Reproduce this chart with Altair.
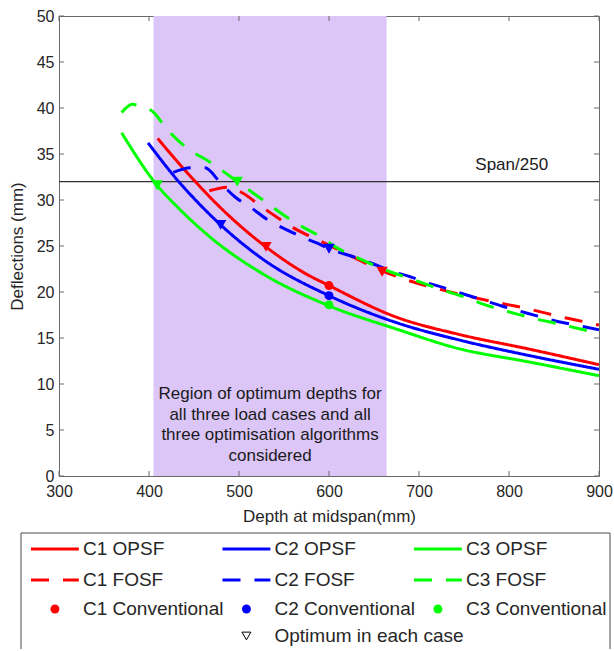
import altair as alt
import pandas as pd

# ---------------- data ----------------
cases = ["C1", "C2", "C3"]
case_colors = ["#FF0000", "#0000FF", "#00FF00"]
methods = ["OPSF", "FOSF"]

c1_opsf_depth = [409.6, 433, 444, 478, 530, 574, 600, 674, 744, 822, 900]
c1_opsf_defl = [36.7, 34.0, 32.8, 29.3, 24.9, 22.0, 20.7, 17.3, 15.4, 13.8, 12.1]
c2_opsf_depth = [399, 433, 455.6, 479.6, 526, 600, 674, 744, 822, 900]
c2_opsf_defl = [36.2, 32.0, 29.6, 27.3, 23.6, 19.6, 16.7, 14.8, 13.1, 11.6]
c3_opsf_depth = [369.6, 409, 433, 444, 470, 526, 600, 674, 744, 822, 900]
c3_opsf_defl = [37.3, 31.6, 29.1, 28.05, 25.8, 22.0, 18.5, 16.0, 13.85, 12.4, 10.9]

c1_fosf_depth = [467, 488, 505, 522, 541, 560, 580, 600, 635, 659, 690, 715, 752, 780, 800, 820, 841, 862, 882, 900]
c1_fosf_defl = [31.0, 31.4, 30.7, 29.5, 28.2, 27.0, 26.0, 25.1, 23.4, 22.3, 21.2, 20.5, 19.6, 19.0, 18.6, 18.2, 17.7, 17.2, 16.8, 16.4]
c2_fosf_depth = [427, 447, 462, 480, 496, 513, 531, 548, 570, 587, 600, 628, 648, 668, 689, 709, 730, 752, 772, 791, 813, 831, 854, 874, 900]
c2_fosf_defl = [33.0, 33.5, 33.5, 31.8, 30.3, 29.2, 27.9, 27.0, 26.0, 25.3, 24.7, 23.8, 23.1, 22.3, 21.7, 21.0, 20.4, 19.7, 19.1, 18.5, 17.9, 17.4, 16.8, 16.4, 15.9]
c3_fosf_depth = [369.6, 381.5, 390, 405.5, 416.7, 433, 446, 468, 484, 498, 518, 535, 552, 572, 589, 609, 628, 648, 668, 689, 709, 730, 752, 768, 787, 809, 829, 852, 870, 900]
c3_fosf_defl = [39.5, 40.4, 40.2, 39.5, 38.1, 36.4, 35.4, 34.1, 33.0, 32.0, 30.6, 29.4, 28.2, 27.0, 26.1, 24.8, 23.9, 23.0, 22.2, 21.5, 20.8, 20.1, 19.4, 18.8, 18.2, 17.6, 17.1, 16.6, 16.2, 15.5]

conv_case = ["C1", "C2", "C3"]
conv_depth = [600, 600, 600]
conv_defl = [20.7, 19.6, 18.6]

opt_case = ["C1", "C2", "C3", "C1", "C2", "C3"]
opt_depth = [530, 479.6, 409, 659, 600, 498]
opt_defl = [24.9, 27.3, 31.6, 22.2, 24.7, 32.0]

region_start = 405
region_end = 664
region_text = "Region of optimum depths for\nall three load cases and all\nthree optimisation algorithms\nconsidered"
region_text_defl = 8.9   # level of the first text line

span_limit = 32
span_label = "Span/250"
span_label_depth = 803
span_label_defl = 33.8

x_ticks = [300, 400, 500, 600, 700, 800, 900]
y_ticks = [0, 5, 10, 15, 20, 25, 30, 35, 40, 45, 50]

legend_labels = ["C1 OPSF", "C2 OPSF", "C3 OPSF",
                 "C1 FOSF", "C2 FOSF", "C3 FOSF",
                 "C1 Conventional", "C2 Conventional", "C3 Conventional",
                 "Optimum in each case"]
legend_cols = [0, 1, 2, 0, 1, 2, 0, 1, 2, 1]
legend_rows = [0, 0, 0, 1, 1, 1, 2, 2, 2, 3]
legend_kinds = ["solid"] * 3 + ["dashed"] * 3 + ["dot"] * 3 + ["tri"]
legend_colors = case_colors * 3 + ["#000000"]

# ---------------- build tables ----------------
rows = []
for case, method, dd, vv in [
    ("C1", "OPSF", c1_opsf_depth, c1_opsf_defl),
    ("C2", "OPSF", c2_opsf_depth, c2_opsf_defl),
    ("C3", "OPSF", c3_opsf_depth, c3_opsf_defl),
    ("C1", "FOSF", c1_fosf_depth, c1_fosf_defl),
    ("C2", "FOSF", c2_fosf_depth, c2_fosf_defl),
    ("C3", "FOSF", c3_fosf_depth, c3_fosf_defl),
]:
    for d, v in zip(dd, vv):
        rows.append({"case": case, "method": method, "series": case + " " + method, "depth": d, "defl": v})
lines_df = pd.DataFrame(rows)

conv_df = pd.DataFrame({"case": conv_case, "depth": conv_depth, "defl": conv_defl})
opt_df = pd.DataFrame({"case": opt_case, "depth": opt_depth, "defl": opt_defl})
region_df = pd.DataFrame({"depth": [region_start], "depth2": [region_end], "defl": [y_ticks[0]], "defl2": [y_ticks[-1]]})
region_txt_df = pd.DataFrame({"depth": [(region_start + region_end) / 2], "defl": [region_text_defl], "t": [region_text]})
span_df = pd.DataFrame({"defl": [span_limit]})
span_txt_df = pd.DataFrame({"depth": [span_label_depth], "defl": [span_label_defl], "t": [span_label]})
xt_df = pd.DataFrame({"depth": x_ticks})
yt_df = pd.DataFrame({"defl": y_ticks})

W, H = 540, 460
axis_color = "#6a6a6a"
text_color = "#262626"
FONT = "Liberation Sans"

xscale = alt.Scale(domain=[x_ticks[0], x_ticks[-1]], nice=False, zero=False)
yscale = alt.Scale(domain=[y_ticks[0], y_ticks[-1]], nice=False, zero=False)
color_scale = alt.Scale(domain=cases, range=case_colors)

xaxis = alt.Axis(values=x_ticks, title="Depth at midspan(mm)", ticks=False, grid=False,
                 labelFontSize=16, titleFontSize=17, labelPadding=7, titlePadding=9,
                 domainColor=axis_color, labelColor=text_color, titleColor=text_color,
                 titleFontWeight="normal", format="d", labelFlush=False)
yaxis = alt.Axis(values=y_ticks, title="Deflections (mm)", ticks=False, grid=False,
                 labelFontSize=16, titleFontSize=17, labelPadding=5, titlePadding=10,
                 domainColor=axis_color, labelColor=text_color, titleColor=text_color,
                 titleFontWeight="normal", format="d", labelFlush=False)


def X(field="depth:Q"):
    return alt.X(field, scale=xscale, axis=xaxis)


def Y(field="defl:Q"):
    return alt.Y(field, scale=yscale, axis=yaxis)


region = alt.Chart(region_df).mark_rect(color="#DCC6F8").encode(
    x=X(), x2="depth2:Q", y=Y(), y2="defl2:Q")

region_txt = alt.Chart(region_txt_df).mark_text(
    fontSize=17, lineBreak="\n", lineHeight=20.5, align="center", baseline="middle", color="#1a1a1a"
).encode(x=X(), y=Y(), text="t:N")

span_rule = alt.Chart(span_df).mark_rule(color="#303030", strokeWidth=1.2).encode(y=Y())

span_txt = alt.Chart(span_txt_df).mark_text(fontSize=17, align="center", baseline="middle", color="#1a1a1a").encode(
    x=X(), y=Y(), text="t:N")

lines = alt.Chart(lines_df).mark_line(strokeWidth=3, interpolate="monotone", clip=True).encode(
    x=X(), y=Y(),
    color=alt.Color("case:N", scale=color_scale, legend=None),
    strokeDash=alt.StrokeDash("method:N", scale=alt.Scale(domain=methods, range=[[1, 0], [18, 14]]), legend=None),
    detail="series:N",
)

conv = alt.Chart(conv_df).mark_point(shape="circle", filled=True, size=80, opacity=1).encode(
    x=X(), y=Y(), color=alt.Color("case:N", scale=color_scale, legend=None))

opt = alt.Chart(opt_df).mark_point(shape="triangle-down", filled=True, size=130, opacity=1).encode(
    x=X(), y=Y(), color=alt.Color("case:N", scale=color_scale, legend=None))

tk = dict(color=axis_color, strokeWidth=1)
xt_bottom = alt.Chart(xt_df).mark_rule(**tk).encode(x=X(), y=alt.value(H), y2=alt.value(H - 5))
xt_top = alt.Chart(xt_df).mark_rule(**tk).encode(x=X(), y=alt.value(0), y2=alt.value(5))
yt_left = alt.Chart(yt_df).mark_rule(**tk).encode(y=Y(), x=alt.value(0), x2=alt.value(5))
yt_right = alt.Chart(yt_df).mark_rule(**tk).encode(y=Y(), x=alt.value(W), x2=alt.value(W - 5))

main = alt.layer(region, region_txt, span_rule, span_txt, lines, conv, opt,
                 xt_bottom, xt_top, yt_left, yt_right).properties(width=W, height=H)

# ---------------- legend panel (its origin sits under the plot's left edge) ----------------
LW, LH = 552, 118
leg_df = pd.DataFrame({"label": legend_labels, "col": legend_cols, "row": legend_rows,
                       "kind": legend_kinds, "color": legend_colors})
lxs = alt.Scale(domain=[0, 3], range=[-28, -28 + 3 * 191.5])
lys = alt.Scale(domain=[0, 1, 2, 3], range=[18, 49, 78, 105])

lbase = alt.Chart(leg_df)
leg_lines = lbase.transform_filter("datum.kind == 'solid' || datum.kind == 'dashed'").transform_calculate(
    x0="datum.col", x1="datum.col + 0.25").mark_rule(strokeWidth=3).encode(
    x=alt.X("x0:Q", scale=lxs, axis=None), x2="x1:Q",
    y=alt.Y("row:Q", scale=lys, axis=None),
    color=alt.Color("color:N", scale=None),
    strokeDash=alt.StrokeDash("kind:N", scale=alt.Scale(domain=["solid", "dashed"], range=[[1, 0], [21, 19]]), legend=None),
)
leg_dots = lbase.transform_filter("datum.kind == 'dot'").transform_calculate(xm="datum.col + 0.125").mark_point(
    shape="circle", filled=True, size=80, opacity=1).encode(
    x=alt.X("xm:Q", scale=lxs, axis=None), y=alt.Y("row:Q", scale=lys, axis=None),
    color=alt.Color("color:N", scale=None))
leg_tri = lbase.transform_filter("datum.kind == 'tri'").transform_calculate(xm="datum.col + 0.125").mark_point(
    shape="triangle-down", filled=False, size=80, strokeWidth=1, opacity=1).encode(
    x=alt.X("xm:Q", scale=lxs, axis=None), y=alt.Y("row:Q", scale=lys, axis=None),
    color=alt.Color("color:N", scale=None))
leg_txt = lbase.transform_calculate(xt="datum.col + 0.2715").mark_text(
    align="left", baseline="middle", fontSize=19, color=text_color).encode(
    x=alt.X("xt:Q", scale=lxs, axis=None), y=alt.Y("row:Q", scale=lys, axis=None), text="label:N")

box_df = pd.DataFrame({"k": [0]})
box_color = "#4a4a4a"
BX0, BX1 = -38, LW - 1
box_top = alt.Chart(box_df).mark_rule(color=box_color, strokeWidth=1).encode(
    x=alt.value(BX0), x2=alt.value(BX1), y=alt.value(2))
box_left = alt.Chart(box_df).mark_rule(color=box_color, strokeWidth=1).encode(
    x=alt.value(BX0), y=alt.value(2), y2=alt.value(LH))
box_right = alt.Chart(box_df).mark_rule(color=box_color, strokeWidth=1).encode(
    x=alt.value(BX1), y=alt.value(2), y2=alt.value(LH))

legend_panel = alt.layer(box_top, box_left, box_right, leg_lines, leg_dots, leg_tri, leg_txt).properties(
    width=LW, height=LH, view=alt.ViewBackground(strokeOpacity=0))

chart = alt.vconcat(main, legend_panel, spacing=6).properties(
    padding={"left": 7, "top": 7, "right": 0, "bottom": 0}
).configure(font=FONT).configure_view(stroke=axis_color, strokeWidth=1)

chart.save("out.html", embed_options={"renderer": "svg", "actions": False})
